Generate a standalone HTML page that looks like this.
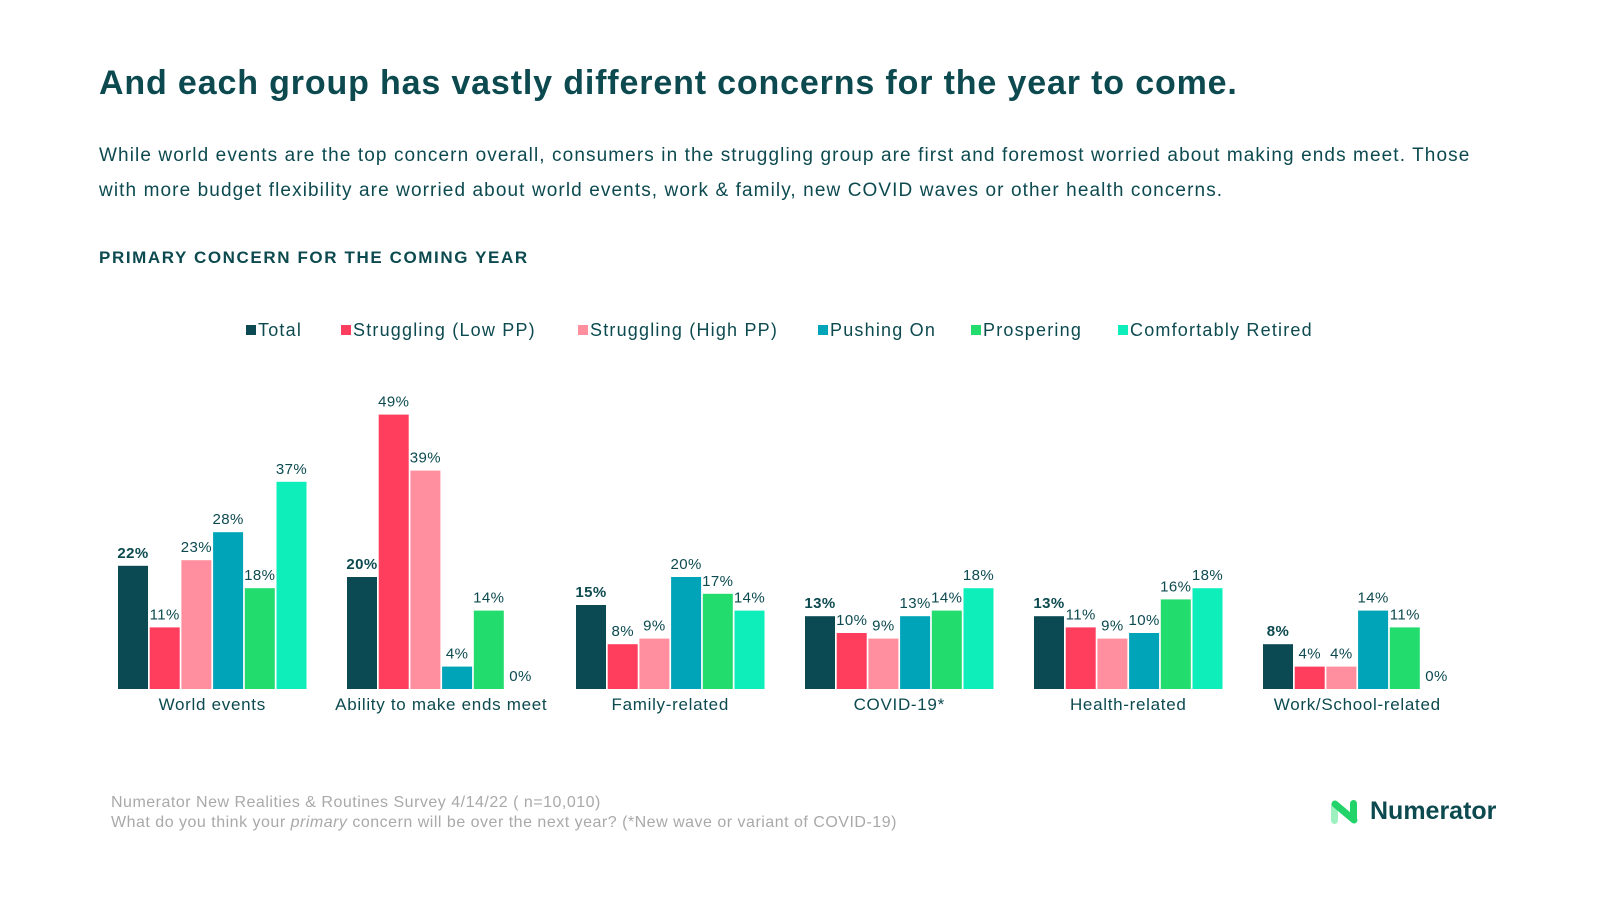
<!DOCTYPE html>
<html><head><meta charset="utf-8"><style>
body{margin:0;width:1600px;height:900px;background:#fff;font-family:"Liberation Sans",sans-serif;color:#0c4a50;position:relative;overflow:hidden}
.abs{position:absolute}
h1{position:absolute;left:99px;top:64px;margin:0;font-size:34px;font-weight:bold;color:#0c4a50;letter-spacing:0.85px}
.sub{left:99px;top:138px;font-size:19px;line-height:35px;color:#0c4a50;width:1480px;letter-spacing:1.1px;white-space:nowrap}
.sec{left:99px;top:248px;font-size:17px;letter-spacing:1.6px;font-weight:bold;color:#0c4a50}
.note{left:111px;top:793px;font-size:16px;color:#a9a9a9;line-height:20px;letter-spacing:0.5px}
</style></head><body>
<h1>And each group has vastly different concerns for the year to come.</h1>
<div class="abs sub">While world events are the top concern overall, consumers in the struggling group are first and foremost worried about making ends meet. Those<br>with more budget flexibility are worried about world events, work &amp; family, new COVID waves or other health concerns.</div>
<div class="abs sec">PRIMARY CONCERN FOR THE COMING YEAR</div>
<svg class="abs" style="left:0;top:0" width="1600" height="900" id="chart"></svg>
<div class="abs note">Numerator New Realities &amp; Routines Survey 4/14/22 ( n=10,010)<br>What do you think your <i>primary</i> concern will be over the next year? (*New wave or variant of COVID-19)</div>
<div class="abs" style="left:1330px;top:798px">
<svg width="30" height="28" viewBox="0 0 30 28"><rect x="1" y="4" width="7" height="22" rx="3.5" fill="#9ff0c0"/><rect x="20" y="2" width="7" height="22" rx="3.5" fill="#22d36a"/><line x1="5" y1="6" x2="24" y2="22" stroke="#22d36a" stroke-width="7" stroke-linecap="round"/></svg>
<span style="position:absolute;left:40px;top:-1px;font-size:25px;color:#0c4a50;font-weight:bold">Numerator</span></div>
<script>
const categories=["World events","Ability to make ends meet","Family-related","COVID-19*","Health-related","Work/School-related"];
const seriesNames=["Total","Struggling (Low PP)","Struggling (High PP)","Pushing On","Prospering","Comfortably Retired"];
const total=[22,20,15,13,13,8];
const lowPP=[11,49,8,10,11,4];
const highPP=[23,39,9,9,9,4];
const pushing=[28,4,20,13,10,14];
const prospering=[18,14,17,14,16,11];
const retired=[37,0,14,18,18,0];
const series=[total,lowPP,highPP,pushing,prospering,retired];
const colors=["#0b4a52","#ff3d5d","#ff8f9e","#00a4b8","#22dc6e","#0deebb"];
const svg=document.getElementById('chart');const NS="http://www.w3.org/2000/svg";
const base=689,k=5.6,g0=118,gs=229,bs=31.7,bw=30;
function y(v){return base-v*k}
function el(t,a){const e=document.createElementNS(NS,t);for(const q in a)e.setAttribute(q,a[q]);svg.appendChild(e);return e}
categories.forEach((c,i)=>{
 series.forEach((s,j)=>{
  const x=g0+i*gs+j*bs,v=s[i];
  if(v>0){const r=el('rect',{x:x,y:y(v),width:bw,height:v*k,fill:colors[j]});
  
  }
  const t=el('text',{x:x+bw/2,y:y(v)-8,'text-anchor':'middle','font-size':15,fill:'#0c4a50','font-weight':j==0?'bold':'normal','font-family':'Liberation Sans','letter-spacing':0.4});
  t.textContent=v+'%';
  
  
 });
 const l=el('text',{x:g0+i*gs+(5*bs+bw)/2,y:710,'text-anchor':'middle','font-size':17,fill:'#0c4a50','font-family':'Liberation Sans','letter-spacing':0.7});
 l.textContent=c;
 
 
});
const lx=[246,341,578,818,971,1118];
seriesNames.forEach((n,j)=>{
 const g=el('g',{});
 
 
 const r=document.createElementNS(NS,'rect');r.setAttribute('x',lx[j]);r.setAttribute('y',325);r.setAttribute('width',10);r.setAttribute('height',10);r.setAttribute('fill',colors[j]);g.appendChild(r);
 const t=document.createElementNS(NS,'text');t.setAttribute('x',lx[j]+12);t.setAttribute('y',336);t.setAttribute('font-size',18);t.setAttribute('letter-spacing',1.2);t.setAttribute('fill','#0c4a50');t.setAttribute('font-family','Liberation Sans');t.textContent=n;g.appendChild(t);
});
</script>
</body></html>
